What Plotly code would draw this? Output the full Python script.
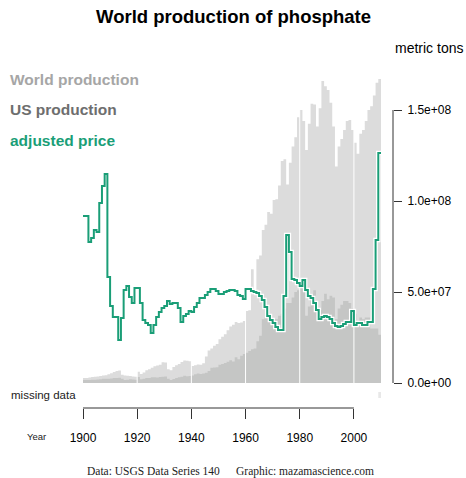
import plotly.graph_objects as go

# ---- data -----------------------------------------------------------------
years = list(range(1900, 2010))

# world phosphate rock production, million metric tons
world_mt = [
    2.7, 2.8, 3.0, 3.3, 3.4, 3.6, 3.9, 4.1, 4.3, 4.8,
    5.3, 6.0, 6.6, 6.8, 4.6, 4.1, 4.0, 3.9, 3.6, 3.5,
    6.2, 5.0, 5.8, 7.0, 7.6, 8.4, 9.2, 9.6, 10.0, 11.4,
    11.2, 7.6, 7.0, 8.8, 9.8, 10.4, 11.6, 12.4, 12.2, 12.0,
    9.4, 9.8, 10.2, 10.0, 10.8, 14.5, 17.8, 19.0, 20.5, 21.4,
    24.0, 25.4, 26.8, 29.0, 31.0, 32.0, 33.5, 33.0, 33.2, 34.0,
    39.5, 40.0, 62.5, 51.0, 68.0, 70.0, 84.0, 87.0, 94.0, 93.0,
    100.5, 101.0, 108.5, 122.0, 123.0, 109.0, 121.0, 130.0, 135.0, 146.0,
    150.0, 144.0, 128.0, 142.5, 153.5, 153.0, 141.0, 151.0, 166.0, 163.0,
    161.0, 154.0, 141.0, 119.0, 130.0, 134.0, 139.0, 144.0, 144.5, 139.0,
    132.0, 126.0, 137.0, 139.0, 144.0, 150.0, 152.0, 158.0, 165.0, 167.0,
]

# US phosphate rock production, million metric tons
us_mt = [
    1.6, 1.6, 1.7, 1.8, 1.8, 1.9, 2.1, 2.3, 2.3, 2.4,
    2.5, 2.7, 2.8, 2.9, 2.4, 1.7, 1.8, 2.1, 1.9, 1.8,
    3.3, 2.1, 2.3, 2.8, 2.7, 3.1, 3.1, 3.0, 3.3, 3.5,
    3.6, 2.3, 1.6, 2.2, 2.7, 3.2, 3.4, 4.0, 3.7, 3.8,
    4.1, 4.8, 5.2, 5.0, 5.2, 5.6, 6.6, 8.4, 8.5, 8.6,
    10.0, 10.4, 11.0, 11.7, 12.5, 11.8, 14.2, 13.0, 15.0, 16.0,
    16.6, 17.6, 18.5, 19.0, 23.0, 26.0, 35.0, 36.0, 37.0, 34.0,
    35.0, 35.0, 37.0, 38.0, 41.0, 44.0, 44.0, 47.0, 50.0, 51.0,
    54.0, 53.0, 37.0, 42.0, 49.0, 51.0, 39.0, 40.0, 45.0, 49.0,
    46.0, 48.0, 47.0, 35.0, 41.0, 43.0, 45.0, 45.0, 44.0, 41.0,
    38.0, 32.0, 36.0, 35.0, 36.0, 36.0, 30.0, 30.0, 30.0, 26.5,
]

# inflation-adjusted unit value, $ per metric ton
price = [
    91.8, 91.8, 77.5, 79.7, 84.1, 83.0, 98.9, 108.3, 114.8, 58.2,
    42.3, 36.3, 36.3, 23.6, 35.7, 51.1, 53.3, 47.3, 44.0, 52.2,
    52.2, 44.0, 34.6, 33.0, 31.9, 27.5, 31.9, 36.3, 39.0, 41.2,
    42.3, 45.1, 43.4, 44.0, 44.0, 41.2, 33.5, 36.8, 37.9, 39.6,
    39.0, 41.8, 44.0, 46.7, 46.7, 48.4, 50.0, 51.7, 51.7, 50.6,
    48.9, 48.9, 50.0, 50.6, 51.1, 51.1, 50.6, 48.4, 47.8, 46.2,
    51.7, 51.7, 50.6, 50.0, 49.5, 47.8, 45.6, 41.8, 36.8, 34.6,
    33.0, 30.8, 29.1, 29.1, 47.8, 81.3, 72.0, 57.1, 56.6, 55.0,
    53.3, 56.6, 51.1, 47.8, 46.7, 44.0, 40.1, 35.2, 36.3, 36.8,
    36.3, 35.2, 33.0, 31.3, 30.8, 31.3, 32.4, 33.5, 33.5, 39.6,
    31.9, 33.0, 33.0, 31.9, 31.9, 33.5, 33.5, 51.7, 78.6, 126.4,
]

missing_years = [2009]

grid_years = [1920, 1940, 1960, 1980, 2000]
tick_years = [1900, 1920, 1940, 1960, 1980, 2000]
ton_ticks = [0, 5e7, 1e8, 1.5e8]
ton_labels = ["0.0e+00", "5.0e+07", "1.0e+08", "1.5e+08"]

# ---- styling ----------------------------------------------------------------
W, H = 466, 478
WORLD_COL = "#dcdcdc"
US_COL = "#c5c6c5"
PRICE_COL = "#1a9e77"
FONT = "Liberation Sans, Arial, sans-serif"
SERIF = "Liberation Serif, Times New Roman, serif"


def px_x(p):
    return p / W


def px_y(p):
    return 1 - p / H


# each year's value spans [year, year + 1]
x_step = years + [years[-1] + 1]


def step_vals(v):
    return list(v) + [v[-1]]


world_t = [v * 1e6 for v in world_mt]
us_t = [v * 1e6 for v in us_mt]

fig = go.Figure()

fig.add_trace(go.Scatter(
    x=x_step, y=step_vals(world_t), mode="lines",
    line=dict(width=0, shape="hv", color=WORLD_COL),
    fill="tozeroy", fillcolor=WORLD_COL, hoverinfo="skip", showlegend=False,
))
fig.add_trace(go.Scatter(
    x=x_step, y=step_vals(us_t), mode="lines",
    line=dict(width=0, shape="hv", color=US_COL),
    fill="tozeroy", fillcolor=US_COL, hoverinfo="skip", showlegend=False,
))

# white vertical guides through the production bars
gx, gy = [], []
for g in grid_years:
    gx += [g, g, None]
    gy += [0, 1.7e8, None]
fig.add_trace(go.Scatter(
    x=gx, y=gy, mode="lines", line=dict(color="white", width=1),
    hoverinfo="skip", showlegend=False,
))

# price line with a white casing
fig.add_trace(go.Scatter(
    x=x_step, y=step_vals(price), yaxis="y2", mode="lines",
    line=dict(color="white", width=4.5, shape="hv"),
    hoverinfo="skip", showlegend=False,
))
fig.add_trace(go.Scatter(
    x=x_step, y=step_vals(price), yaxis="y2", mode="lines",
    line=dict(color=PRICE_COL, width=2, shape="hv"),
    showlegend=False,
))

# missing data strip
fig.add_trace(go.Bar(
    x=missing_years, y=[1] * len(missing_years), yaxis="y3",
    width=1, offset=0, marker=dict(color="#e8e8e8", line=dict(width=0)),
    hoverinfo="skip", showlegend=False,
))

y_bottom, y_top_val = 383, 1.7e8
y_top = y_bottom - 1.82e-6 * y_top_val

fig.update_layout(
    template="none",
    width=W, height=H,
    margin=dict(l=0, r=0, t=0, b=0, pad=0),
    paper_bgcolor="white", plot_bgcolor="white",
    barmode="overlay",
    font=dict(family=FONT, color="black"),
    xaxis=dict(
        domain=[px_x(83), px_x(381)], range=[1900, 2010],
        anchor="free", position=px_y(408), automargin=False,
        showgrid=False, zeroline=False, showline=False,
        ticks="outside", ticklen=10, tickcolor="#333333", tickwidth=1,
        ticklabelstandoff=9,
        tickvals=tick_years, tickfont=dict(size=12, family=FONT),
    ),
    yaxis=dict(
        domain=[px_y(y_bottom), px_y(y_top)], range=[0, y_top_val],
        anchor="free", position=px_x(393), side="right", automargin=False,
        showgrid=False, zeroline=False, showline=False,
        ticks="outside", ticklen=8, tickcolor="#333333", tickwidth=1,
        ticklabelstandoff=3,
        tickvals=ton_ticks, ticktext=ton_labels,
        tickfont=dict(size=12, family=FONT),
    ),
    yaxis2=dict(
        overlaying="y", range=[0, 170], visible=False, automargin=False,
    ),
    yaxis3=dict(
        domain=[px_y(398), px_y(392)], range=[0, 1], visible=False,
        automargin=False,
    ),
    shapes=[
        dict(type="line", xref="x", yref="paper", x0=1900, x1=2000,
             y0=px_y(408), y1=px_y(408), line=dict(color="#333333", width=1)),
        dict(type="line", xref="paper", yref="y", x0=px_x(393), x1=px_x(393),
             y0=0, y1=1.5e8, line=dict(color="#333333", width=1)),
    ],
)


def label(text, x, y, size, color="black", bold=False, anchor="left",
          family=FONT):
    fig.add_annotation(
        text=f"<b>{text}</b>" if bold else text,
        xref="paper", yref="paper", x=px_x(x), y=px_y(y),
        xanchor=anchor, yanchor="middle", showarrow=False,
        font=dict(size=size, color=color, family=family),
    )


label("World production of phosphate", 233, 17, 18.5, bold=True, anchor="center")
label("metric tons", 465, 48, 14, anchor="right")
label("World production", 8, 79, 15.5, color="#a6a6a6", bold=True)
label("US production", 8, 109, 15.5, color="#6e6e6e", bold=True)
label("adjusted price", 8, 140, 15.5, color=PRICE_COL, bold=True)
label("missing data", 9, 395, 11.5, color="#222222")
label("Year", 25, 436, 9.5, color="#222222")
label("Data: USGS Data Series 140", 85, 471, 11.5, color="#222222",
      family=SERIF)
label("Graphic: mazamascience.com", 234, 471, 11.5, color="#222222",
      family=SERIF)

fig.write_html("out.html")
